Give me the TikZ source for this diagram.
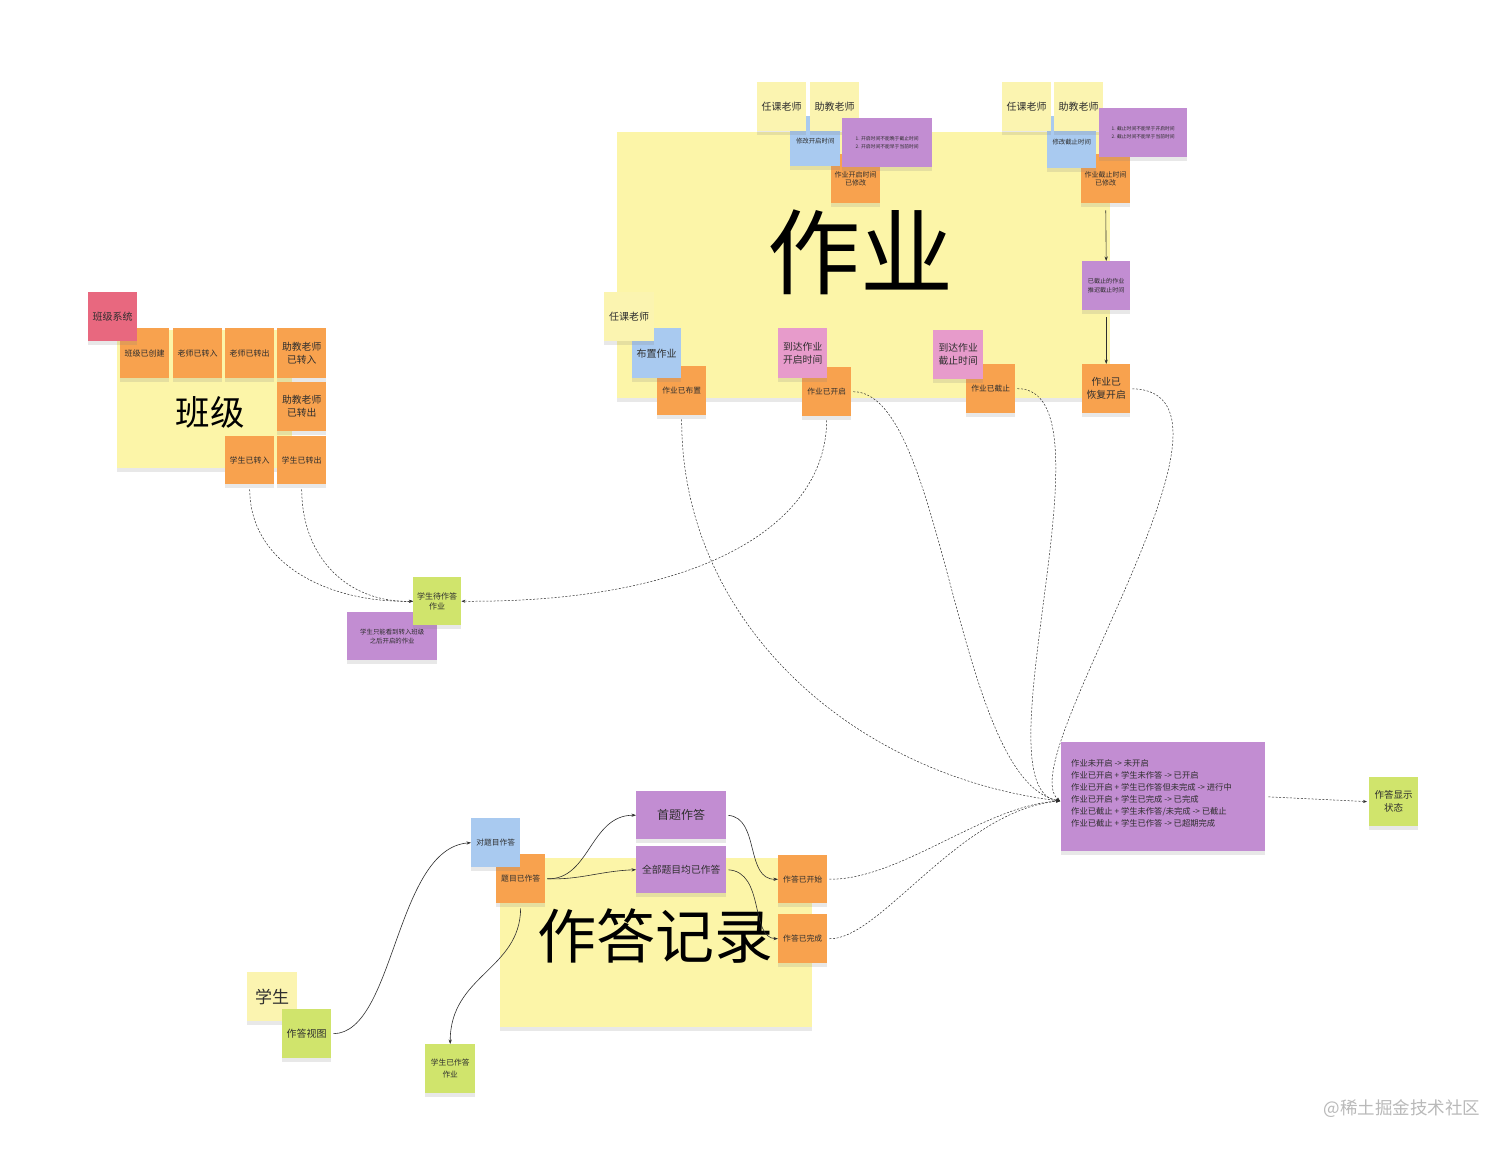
\documentclass[tikz,border=0pt]{standalone}
\usepackage{fontspec}
\setmainfont{Noto Sans CJK SC}
\usetikzlibrary{arrows.meta,shadows}
\definecolor{cYel}{HTML}{FBF4B0}
\definecolor{cBig}{HTML}{FCF5A8}
\definecolor{cOra}{HTML}{F8A24E}
\definecolor{cBlu}{HTML}{A9CAF0}
\definecolor{cPur}{HTML}{C28DD2}
\definecolor{cPnk}{HTML}{E79BCB}
\definecolor{cGrn}{HTML}{D0E46C}
\definecolor{cRed}{HTML}{E8687F}
\definecolor{cTxt}{HTML}{2E2E2E}
\newcommand\fsz[2]{\fontsize{#1}{#2}\selectfont}
\tikzset{
  sticky/.style={anchor=north west, inner sep=0pt, align=center, text=cTxt,
    minimum width=49, minimum height=49,
    drop shadow={shadow xshift=0pt, shadow yshift=-3.5pt, opacity=0.18}},
  dsh/.style={draw=cTxt, line width=0.5pt, dash pattern=on 2pt off 1.6pt,
    -{Stealth[length=4pt,width=3pt]}},
  sol/.style={draw=cTxt, line width=0.6pt, -{Stealth[length=4.5pt,width=3.2pt]}},
  bigtxt/.style={text=black, inner sep=0pt}
}
\begin{document}
\begin{tikzpicture}[x=1pt,y=-1pt]
\useasboundingbox[fill=white] (0,0) rectangle (1512,1149);

% ===== 作业 board =====
\node[sticky, fill=cBig, minimum width=493, minimum height=266] (zyBoard) at (617,132) {};
\node[bigtxt, font=\fsz{93}{93}] (zyTitle) at (860,252) {作业};

% top-left cluster
\node[sticky, fill=cOra, font=\fsz{7}{8.5}] (oTL) at (831,154) {作业开启时间\\已修改};
\node[sticky, fill=cBlu, font=\fsz{6.4}{8}, minimum width=50, minimum height=50] (bTL) at (790,116) {修改开启时间};
\node[sticky, fill=cYel, font=\fsz{10}{12}] (yTL1) at (757,82) {任课老师};
\node[sticky, fill=cYel, font=\fsz{10}{12}] (yTL2) at (810,82) {助教老师};
\node[sticky, fill=cPur, font=\fsz{4.8}{7.5}, align=left, minimum width=90] (pTL) at (842,118) {1. 开启时间不能晚于截止时间\\2. 开启时间不能早于当前时间};

% top-right cluster
\node[sticky, fill=cOra, font=\fsz{7}{8.5}] (oTR) at (1081,154) {作业截止时间\\已修改};
\node[sticky, fill=cBlu, font=\fsz{6.4}{8}, minimum height=52] (bTR) at (1047,116) {修改截止时间};
\node[sticky, fill=cYel, font=\fsz{10}{12}] (yTR1) at (1002,82) {任课老师};
\node[sticky, fill=cYel, font=\fsz{10}{12}] (yTR2) at (1054,82) {助教老师};
\node[sticky, fill=cPur, font=\fsz{4.8}{7.5}, align=left, minimum width=88] (pTR) at (1099,108) {1. 截止时间不能早于开启时间\\2. 截止时间不能早于当前时间};

% right column
\node[sticky, fill=cPur, font=\fsz{6.1}{9}, minimum width=48] (pR) at (1082,261) {已截止的作业\\推迟截止时间};
\node[sticky, fill=cOra, font=\fsz{9.8}{13}, minimum width=48] (oR) at (1082,364) {作业已\\恢复开启};

% bottom row of 作业
\node[sticky, fill=cOra, font=\fsz{7.7}{9}] (oL1) at (657,366) {作业已布置};
\node[sticky, fill=cBlu, font=\fsz{10}{12}, minimum height=50] (bL) at (632,328) {布置作业};
\node[sticky, fill=cYel, font=\fsz{10}{12}, minimum width=50] (yL) at (604,292) {任课老师};
\node[sticky, fill=cOra, font=\fsz{7.7}{9}] (oL2) at (802,367) {作业已开启};
\node[sticky, fill=cPnk, font=\fsz{9.8}{13}, minimum height=50] (pkL1) at (778,328) {到达作业\\开启时间};
\node[sticky, fill=cOra, font=\fsz{7.7}{9}] (oL3) at (966,364) {作业已截止};
\node[sticky, fill=cPnk, font=\fsz{9.8}{13}, minimum width=50] (pkL2) at (933,330) {到达作业\\截止时间};

% ===== 班级 board =====
\node[sticky, fill=cBig, minimum width=175, minimum height=138] (bjBoard) at (117,330) {};
\node[bigtxt, font=\fsz{34.5}{35}] (bjTitle) at (210,412) {班级};
\node[sticky, fill=cOra, font=\fsz{8}{10}, minimum height=50] (c1) at (120,328) {班级已创建};
\node[sticky, fill=cOra, font=\fsz{8}{10}, minimum height=50] (c2) at (173,328) {老师已转入};
\node[sticky, fill=cOra, font=\fsz{8}{10}, minimum height=50] (c3) at (225,328) {老师已转出};
\node[sticky, fill=cOra, font=\fsz{9.8}{13}, minimum height=50] (c4) at (277,328) {助教老师\\已转入};
\node[sticky, fill=cOra, font=\fsz{9.8}{13}] (c5) at (277,382) {助教老师\\已转出};
\node[sticky, fill=cOra, font=\fsz{8}{10}, minimum height=48] (sIn) at (225,436) {学生已转入};
\node[sticky, fill=cOra, font=\fsz{8}{10}, minimum height=48] (sOut) at (277,436) {学生已转出};
\node[sticky, fill=cRed, font=\fsz{10}{12}] (sysBJ) at (88,292) {班级系统};

% 学生待作答
\node[sticky, fill=cPur, font=\fsz{6.4}{9}, minimum width=90, minimum height=48] (pOnly) at (347,612) {学生只能看到转入班级\\之后开启的作业};
\node[sticky, fill=cGrn, font=\fsz{8}{10}, minimum width=48, minimum height=48] (gWait) at (413,577) {学生待作答\\作业};

% state box
\node[sticky, fill=cPur, minimum width=204, minimum height=109] (state) at (1061,742) {};
\node[anchor=west, align=left, inner sep=0pt, text=cTxt, font=\fsz{8.3}{12}] (stateTxt) at (1071,793)
 {作业未开启 -> 未开启\\作业已开启 + 学生未作答 -> 已开启\\作业已开启 + 学生已作答但未完成 -> 进行中\\作业已开启 + 学生已完成 -> 已完成\\作业已截止 + 学生未作答/未完成 -> 已截止\\作业已截止 + 学生已作答 -> 已超期完成};
\node[sticky, fill=cGrn, font=\fsz{9.5}{13}] (gShow) at (1369,777) {作答显示\\状态};

% ===== 作答记录 board =====
\node[sticky, fill=cBig, minimum width=312, minimum height=169] (zdBoard) at (500,858) {};
\node[bigtxt, font=\fsz{59}{59}] (zdTitle) at (655,936) {作答记录};
\node[sticky, fill=cOra, font=\fsz{7.8}{9}] (oS1) at (496,854) {题目已作答};
\node[sticky, fill=cBlu, font=\fsz{7.7}{9}] (bS) at (471,818) {对题目作答};
\node[sticky, fill=cPur, font=\fsz{12}{14}, minimum width=90, minimum height=48] (pS1) at (636,791) {首题作答};
\node[sticky, fill=cPur, font=\fsz{9.8}{12}, minimum width=90, minimum height=47] (pS2) at (636,846) {全部题目均已作答};
\node[sticky, fill=cOra, font=\fsz{7.8}{9}, minimum height=48] (oS2) at (778,855) {作答已开始};
\node[sticky, fill=cOra, font=\fsz{7.8}{9}] (oS3) at (778,914) {作答已完成};

% bottom-left
\node[sticky, fill=cYel, font=\fsz{17}{18}, minimum width=50] (yStu) at (247,972) {学生};
\node[sticky, fill=cGrn, font=\fsz{10}{12}] (gView) at (282,1009) {作答视图};
\node[sticky, fill=cGrn, font=\fsz{7.7}{12}, minimum width=50] (gDone) at (425,1044) {学生已作答\\作业};

% watermark
\node[text=gray!55, font=\fsz{17.5}{18}, inner sep=0pt] (wm) at (1402,1109) {@稀土掘金技术社区};

% ===== connectors =====
\coordinate (conv) at (1060,801);
\draw[sol, shorten <=7pt] (oTR.south) -- (pR.north);
\draw[sol, shorten <=7pt] (pR.south) -- (oR.north);

\draw[dsh, shorten <=5pt] (sIn.south) .. controls (250,565) and (330,603) .. (gWait.west);
\draw[dsh, shorten <=5pt] (sOut.south) .. controls (302,560) and (350,603) .. (gWait.west);
\draw[dsh, shorten <=4pt] (oL2.south) .. controls (826,525) and (700,603) .. (gWait.east);

\draw[dsh, shorten <=4pt] (oL1.south) .. controls (681,620) and (850,775) .. (conv);
\draw[dsh, shorten <=2pt] (oL2.east) .. controls (945,392) and (955,780) .. (conv);
\draw[dsh, shorten <=2pt] (oL3.east) .. controls (1120,388) and (975,790) .. (conv);
\draw[dsh, shorten <=2pt] (oR.east) .. controls (1270,392) and (1010,760) .. (conv);
\draw[dsh, shorten <=2pt] (oS2.east) .. controls (900,880) and (985,805) .. (conv);
\draw[dsh, shorten <=2pt] (oS3.east) .. controls (880,940) and (960,810) .. (conv);
\draw[dsh, shorten <=3pt, shorten >=2pt] (state.east) -- (gShow.west);

\draw[sol, shorten <=2pt] (gView.east) .. controls (395,1033) and (395,848) .. (bS.west);
\draw[sol, shorten <=2pt] (oS1.east) .. controls (590,880) and (590,815) .. (pS1.west);
\draw[sol, shorten <=2pt] (oS1.east) .. controls (580,880) and (600,871) .. (pS2.west);
\draw[sol, shorten <=2pt] (pS1.east) .. controls (760,818) and (745,880) .. (oS2.west);
\draw[sol, shorten <=2pt] (pS2.east) .. controls (765,872) and (750,938) .. (oS3.west);
\draw[sol, shorten <=5pt] (oS1.south) .. controls (520,970) and (450,975) .. (gDone.north);
\end{tikzpicture}
\end{document}
